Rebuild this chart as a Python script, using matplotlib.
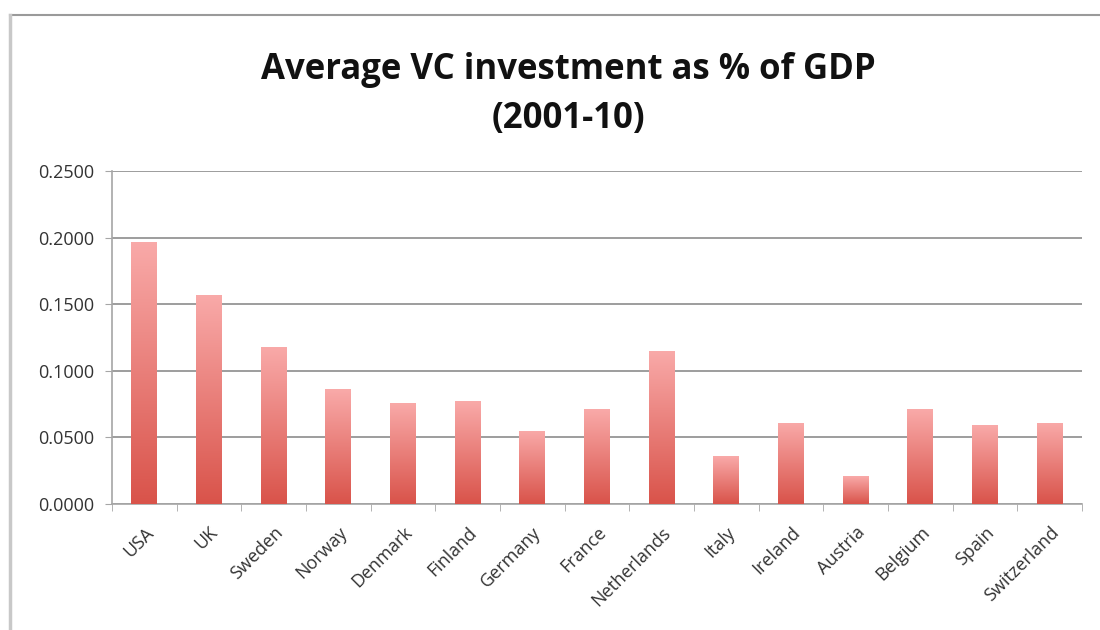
import numpy as np
import matplotlib.pyplot as plt
from matplotlib.colors import LinearSegmentedColormap
from matplotlib.patches import Rectangle
from matplotlib.lines import Line2D

countries = ["USA", "UK", "Sweden", "Norway", "Denmark", "Finland", "Germany",
             "France", "Netherlands", "Italy", "Ireland", "Austria", "Belgium",
             "Spain", "Switzerland"]
vc_share = [0.197, 0.157, 0.118, 0.086, 0.076, 0.077, 0.055,
            0.071, 0.115, 0.036, 0.061, 0.021, 0.071, 0.059, 0.061]
y_ticks = [0.0, 0.05, 0.10, 0.15, 0.20, 0.25]

plt.rcParams['font.family'] = ['Open Sans', 'DejaVu Sans']

fig = plt.figure(figsize=(11, 6.3), dpi=100)
ax = fig.add_axes([112 / 1100, 1 - 504 / 630, 970 / 1100, 333 / 630])

# light pink at top of each bar, red at its base
cmap = LinearSegmentedColormap.from_list("bar", ["#d9534a", "#f9aaa9"])
gradient = np.linspace(0, 1, 256).reshape(-1, 1)
width = 0.4

bars = ax.bar(range(len(countries)), vc_share, width=width, color="none", zorder=3)
for bar in bars:
    x0, h = bar.get_x(), bar.get_height()
    im = ax.imshow(gradient, cmap=cmap, origin="lower", aspect="auto",
                   extent=[x0, x0 + width, 0, h], zorder=3)
    clip = Rectangle((x0, 0), width, h, transform=ax.transData)
    im.set_clip_path(clip)

ax.set_xlim(-0.5, len(countries) - 0.5)
ax.set_ylim(0, 0.25)
ax.set_yticks(y_ticks)
ax.set_yticklabels([f"{v:.4f}" for v in y_ticks], fontsize=13, color="#333333")
ax.yaxis.grid(True, color="#8c8c8c", linewidth=1.2, zorder=0)
ax.set_axisbelow(True)

ax.set_xticks(range(len(countries)))
ax.set_xticklabels(countries, rotation=45, ha="right", rotation_mode="anchor",
                   fontsize=13, color="#333333")
ax.set_xticks(np.arange(-0.5, len(countries)), minor=True)
ax.tick_params(axis="x", which="major", length=0, pad=14)
ax.tick_params(axis="x", which="minor", length=5, color="#a6a6a6")
ax.tick_params(axis="y", length=5, color="#a6a6a6", pad=8)

for side in ["top", "right"]:
    ax.spines[side].set_visible(False)
for side in ["left", "bottom"]:
    ax.spines[side].set_color("#a6a6a6")
    ax.spines[side].set_linewidth(1.2)

fig.text(0.517, 0.850, "Average VC investment as % of GDP\n(2001-10)",
         ha="center", va="center", fontsize=25, fontweight="bold",
         linespacing=1.45, color="#111111")

# frame of the original chart area (cropped at right and bottom)
fig.add_artist(Line2D([10 / 1100, 1], [1 - 15 / 630, 1 - 15 / 630],
                      transform=fig.transFigure, color="#9a9a9a", linewidth=1.5))
fig.add_artist(Line2D([10 / 1100, 10 / 1100], [0, 1 - 15 / 630],
                      transform=fig.transFigure, color="#c8c8c8", linewidth=2.5))

fig.savefig("out.png", dpi=100)
